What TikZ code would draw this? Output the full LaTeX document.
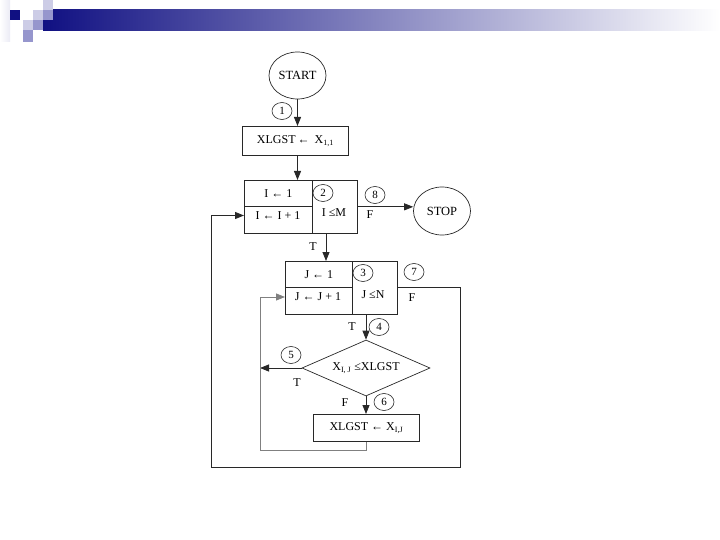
\documentclass[tikz,border=0pt]{standalone}
\usepackage{fontspec}
\setmainfont{Liberation Serif}
\usetikzlibrary{shapes.geometric,arrows.meta}
\definecolor{navy}{RGB}{16,16,130}
\definecolor{lav}{RGB}{204,204,230}
\definecolor{midlav}{RGB}{150,150,205}
\definecolor{ln}{RGB}{40,40,40}
\tikzset{
  txt/.style={font=\fontsize{12}{13}\selectfont, inner sep=0pt},
  cell/.style={draw=ln, line width=0.7pt, inner sep=0pt, anchor=north west, font=\fontsize{12}{13}\selectfont},
  oval/.style={draw=ln, line width=0.7pt, ellipse, minimum width=57pt, minimum height=47pt, inner sep=0pt, font=\fontsize{12.5}{13}\selectfont},
  num/.style={draw=ln, line width=0.6pt, ellipse, minimum width=20pt, minimum height=17pt, inner sep=0pt, font=\fontsize{11}{12}\selectfont},
  arr/.style={draw=ln, line width=0.8pt, -{Triangle[length=9pt,width=7pt]}},
  lin/.style={draw=ln, line width=0.8pt},
  glin/.style={draw=gray, line width=0.9pt},
}
\begin{document}
\begin{tikzpicture}[x=1pt,y=-1pt]
\useasboundingbox (0,0) rectangle (720,540);
% header
\shade[left color=white, right color=lav!40] (0,0) rectangle (10,42);
\shade[left color=navy, right color=white] (43,10) rectangle (720,31);
\fill[navy] (10,10) rectangle (20,20);
\fill[lav] (43,0) rectangle (53,10);
\fill[lav] (33,10) rectangle (43,20);
\fill[midlav] (43,10) rectangle (53,20);
\fill[lav] (23,20) rectangle (33,30);
\fill[midlav] (33,20) rectangle (43,30);
\fill[midlav] (23,30) rectangle (33,42);

% nodes
\node[oval] (start) at (297.5,75.5) {START};
\node[cell, minimum width=106pt, minimum height=29pt] (b1) at (242,126) {XLGST\,←\, X\textsubscript{1,1}};
\node[cell, minimum width=68pt, minimum height=26pt] (i1) at (244,180) {I ← 1};
\node[cell, minimum width=68pt, minimum height=27pt] (i2) at (244,206) {};
\node[cell, minimum width=45pt, minimum height=53pt] (ic) at (312,180) {};
\node[txt] (i2t) at (278,215.5) {I ← I + 1};
\node[txt] (ict) at (334,213) {I ≤M};
\node[oval, minimum height=48pt] (stop) at (442,211) {STOP};

\node[cell, minimum width=67pt, minimum height=26pt] (j1) at (285,261) {J ← 1};
\node[cell, minimum width=67pt, minimum height=27pt] (j2) at (285,287) {};
\node[cell, minimum width=45pt, minimum height=53pt] (jc) at (352,261) {};
\node[txt] (j2t) at (318,297) {J ← J + 1};
\node[txt] (jct) at (373,295) {J ≤N};

\node[draw=ln, line width=0.7pt, diamond, aspect=2.29, minimum width=128pt, minimum height=56pt, inner sep=0pt, font=\fontsize{12}{13}\selectfont] (d) at (366,368) {X\textsubscript{I, J} ≤XLGST};
\node[cell, minimum width=106pt, minimum height=27pt] (b2) at (313,414) {XLGST ← X\textsubscript{I,J}};

% numbers
\node[num] (n1) at (282,111) {1};
\node[num] (n2) at (323,193) {2};
\node[num] (n8) at (375,195) {8};
\node[num] (n3) at (363,273) {3};
\node[num] (n7) at (414,272) {7};
\node[num] (n4) at (379,327) {4};
\node[num] (n5) at (291,355) {5};
\node[num] (n6) at (384,402) {6};
% T/F labels
\node[txt] (f8) at (370,215) {F};
\node[txt] (t2) at (313,247) {T};
\node[txt] (f7) at (412,298) {F};
\node[txt] (t3) at (352,327) {T};
\node[txt] (t5) at (297,383) {T};
\node[txt] (f6) at (345,403) {F};

% connectors
\coordinate (x1) at (326,233);
\coordinate (x2) at (366,314);
\coordinate (inl) at (260,368);
\coordinate (inb) at (260,450);
\coordinate (outr) at (460,467);
\coordinate (outl) at (211,467);

\draw[arr] (start.south) -- (b1.north -| start.south);
\draw[arr] (b1.south -| start.south) -- (i1.north -| start.south);
\draw[arr] (ic.east) -- (ic.east -| stop.west);
\draw[arr] (x1) -- (x1 |- j1.north);
\draw[arr] (x2) -- (d.north);
\draw[arr] (d.south) -- (b2.north -| d.south);
\draw[arr] (d.west) -- (inl);
\draw[glin] (b2.south -| d.south) |- (inb) -- (inl);
\draw[arr, draw=gray, line width=0.9pt] (inl) |- (j2t.west -| j2.west);
\draw[lin] (jc.east) -| (outr) -- (outl);
\draw[arr] (outl) |- (i2t.west -| i2.west);
\end{tikzpicture}
\end{document}
